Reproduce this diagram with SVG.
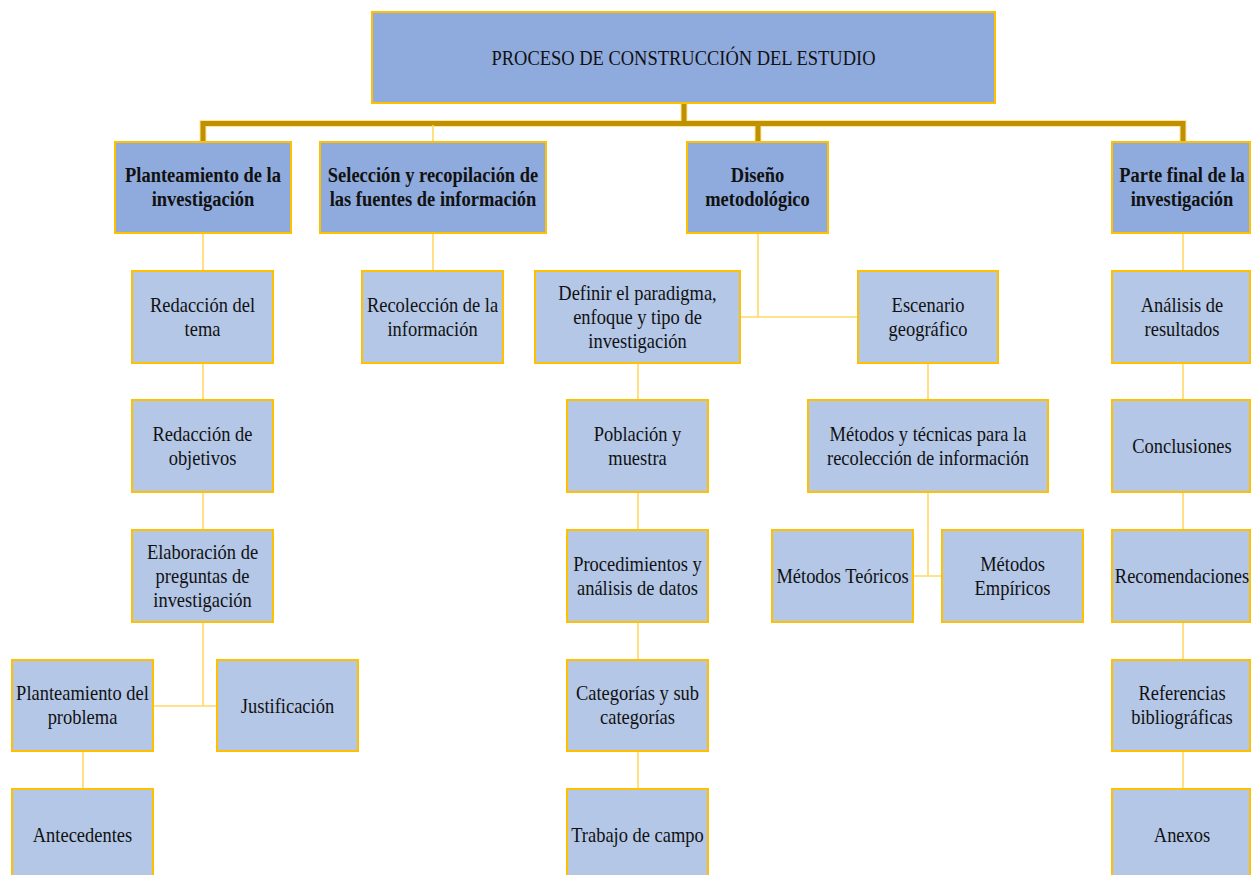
<svg xmlns="http://www.w3.org/2000/svg" width="1251" height="875" viewBox="0 0 1251 875">
<style>
.bx{fill:#B4C7E7;stroke:#FFC000;stroke-width:2}
.hb{fill:#8FAADC;stroke:#FFC000;stroke-width:2}
.t{font-family:"Liberation Serif","Times New Roman",serif;font-size:22px;text-anchor:middle;fill:#111}
.b{font-weight:bold}
.ln{stroke:#FFD966;stroke-width:1.6;fill:none}
.thk{stroke:#BF9000;stroke-width:5;fill:none;stroke-linejoin:miter}
.thkh{stroke:#FFE699;stroke-width:7;fill:none}
</style>
<rect width="1251" height="875" fill="#fff"/>
<g id="connectors">
<path class="thkh" d="M684 103V123.5M203 142V123.5H1183V142M758 123.5V142"/>
<path class="thk" d="M684 103V123.5M203 142V123.5H1183V142M758 123.5V142"/>
<path class="ln" d="M433 125V142"/>
<path class="ln" d="M203 233V271M203 363V400M203 492V530M203 622V706M153 706H217M83 751V789"/>
<path class="ln" d="M433 233V271"/>
<path class="ln" d="M758 233V317M740 317H858M638 363V400M638 492V530M638 622V660M638 751V789"/>
<path class="ln" d="M928 363V400M928 492V576M913 576H942"/>
<path class="ln" d="M1183 233V271M1183 363V400M1183 492V530M1183 622V660M1183 751V789"/>
</g>
<g id="root"><rect class="hb" x="372" y="12" width="623" height="91"/><text class="t" transform="translate(683.5 64.5) scale(0.84 1)">PROCESO DE CONSTRUCCIÓN DEL ESTUDIO</text></g>
<g id="n-planteamiento"><rect class="hb" x="115" y="142" width="176" height="91"/><text class="t b" transform="translate(203 181.5) scale(0.84 1)">Planteamiento de la</text><text class="t b" transform="translate(203 205.5) scale(0.84 1)">investigación</text></g>
<g id="n-seleccion"><rect class="hb" x="320" y="142" width="226" height="91"/><text class="t b" transform="translate(433 181.5) scale(0.84 1)">Selección y recopilación de</text><text class="t b" transform="translate(433 205.5) scale(0.84 1)">las fuentes de información</text></g>
<g id="n-diseno"><rect class="hb" x="687" y="142" width="141" height="91"/><text class="t b" transform="translate(757.5 181.5) scale(0.84 1)">Diseño</text><text class="t b" transform="translate(757.5 205.5) scale(0.84 1)">metodológico</text></g>
<g id="n-parte-final"><rect class="hb" x="1112" y="142" width="138" height="91"/><text class="t b" transform="translate(1182 181.5) scale(0.84 1)">Parte final de la</text><text class="t b" transform="translate(1182 205.5) scale(0.84 1)">investigación</text></g>

<g id="n-redaccion-tema"><rect class="bx" x="132" y="271" width="141" height="92"/><text class="t" transform="translate(202.5 312) scale(0.84 1)">Redacción del</text><text class="t" transform="translate(202.5 336) scale(0.84 1)">tema</text></g>
<g id="n-redaccion-objetivos"><rect class="bx" x="132" y="400" width="141" height="92"/><text class="t" transform="translate(202.5 441) scale(0.84 1)">Redacción de</text><text class="t" transform="translate(202.5 465) scale(0.84 1)">objetivos</text></g>
<g id="n-elaboracion"><rect class="bx" x="132" y="530" width="141" height="92"/><text class="t" transform="translate(202.5 559) scale(0.84 1)">Elaboración de</text><text class="t" transform="translate(202.5 583) scale(0.84 1)">preguntas de</text><text class="t" transform="translate(202.5 607) scale(0.84 1)">investigación</text></g>
<g id="n-planteamiento-problema"><rect class="bx" x="12" y="660" width="141" height="91"/><text class="t" transform="translate(82.5 700) scale(0.84 1)">Planteamiento del</text><text class="t" transform="translate(82.5 724) scale(0.84 1)">problema</text></g>
<g id="n-justificacion"><rect class="bx" x="217" y="660" width="141" height="91"/><text class="t" transform="translate(287.5 712.5) scale(0.84 1)">Justificación</text></g>
<g id="n-antecedentes"><rect class="bx" x="12" y="789" width="141" height="92"/><text class="t" transform="translate(82.5 842) scale(0.84 1)">Antecedentes</text></g>

<g id="n-recoleccion"><rect class="bx" x="362" y="271" width="141" height="92"/><text class="t" transform="translate(432.5 312) scale(0.84 1)">Recolección de la</text><text class="t" transform="translate(432.5 336) scale(0.84 1)">información</text></g>

<g id="n-definir"><rect class="bx" x="535" y="271" width="205" height="92"/><text class="t" transform="translate(637.5 300) scale(0.84 1)">Definir el paradigma,</text><text class="t" transform="translate(637.5 324) scale(0.84 1)">enfoque y tipo de</text><text class="t" transform="translate(637.5 348) scale(0.84 1)">investigación</text></g>
<g id="n-escenario"><rect class="bx" x="858" y="271" width="140" height="92"/><text class="t" transform="translate(928 312) scale(0.84 1)">Escenario</text><text class="t" transform="translate(928 336) scale(0.84 1)">geográfico</text></g>
<g id="n-poblacion"><rect class="bx" x="567" y="400" width="141" height="92"/><text class="t" transform="translate(637.5 441) scale(0.84 1)">Población y</text><text class="t" transform="translate(637.5 465) scale(0.84 1)">muestra</text></g>
<g id="n-procedimientos"><rect class="bx" x="567" y="530" width="141" height="92"/><text class="t" transform="translate(637.5 571) scale(0.84 1)">Procedimientos y</text><text class="t" transform="translate(637.5 595) scale(0.84 1)">análisis de datos</text></g>
<g id="n-categorias"><rect class="bx" x="567" y="660" width="141" height="91"/><text class="t" transform="translate(637.5 700) scale(0.84 1)">Categorías y sub</text><text class="t" transform="translate(637.5 724) scale(0.84 1)">categorías</text></g>
<g id="n-trabajo"><rect class="bx" x="567" y="789" width="141" height="92"/><text class="t" transform="translate(637.5 842) scale(0.84 1)">Trabajo de campo</text></g>
<g id="n-metodos-tecnicas"><rect class="bx" x="808" y="400" width="240" height="92"/><text class="t" transform="translate(928 441) scale(0.84 1)">Métodos y técnicas para la</text><text class="t" transform="translate(928 465) scale(0.84 1)">recolección de información</text></g>
<g id="n-metodos-teoricos"><rect class="bx" x="772" y="530" width="141" height="92"/><text class="t" transform="translate(842.5 583) scale(0.84 1)">Métodos Teóricos</text></g>
<g id="n-metodos-empiricos"><rect class="bx" x="942" y="530" width="141" height="92"/><text class="t" transform="translate(1012.5 571) scale(0.84 1)">Métodos</text><text class="t" transform="translate(1012.5 595) scale(0.84 1)">Empíricos</text></g>

<g id="n-analisis"><rect class="bx" x="1112" y="271" width="138" height="92"/><text class="t" transform="translate(1182 312) scale(0.84 1)">Análisis de</text><text class="t" transform="translate(1182 336) scale(0.84 1)">resultados</text></g>
<g id="n-conclusiones"><rect class="bx" x="1112" y="400" width="138" height="92"/><text class="t" transform="translate(1182 453) scale(0.84 1)">Conclusiones</text></g>
<g id="n-recomendaciones"><rect class="bx" x="1112" y="530" width="138" height="92"/><text class="t" transform="translate(1182 583) scale(0.84 1)">Recomendaciones</text></g>
<g id="n-referencias"><rect class="bx" x="1112" y="660" width="138" height="91"/><text class="t" transform="translate(1182 700) scale(0.84 1)">Referencias</text><text class="t" transform="translate(1182 724) scale(0.84 1)">bibliográficas</text></g>
<g id="n-anexos"><rect class="bx" x="1112" y="789" width="138" height="92"/><text class="t" transform="translate(1182 842) scale(0.84 1)">Anexos</text></g>
</svg>
